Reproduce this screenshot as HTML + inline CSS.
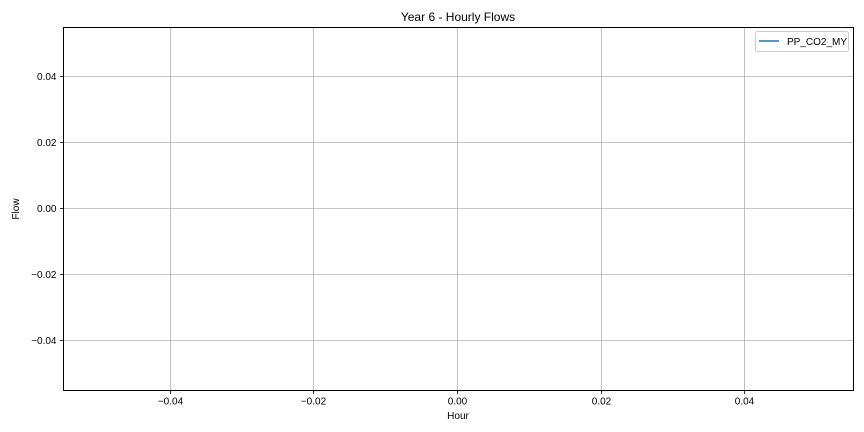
<!DOCTYPE html>
<html><head><meta charset="utf-8"><style>
html,body{margin:0;padding:0;background:#fff;}
svg{display:block;font-family:"Liberation Sans","DejaVu Sans",sans-serif;}
</style></head><body>
<svg id="chart" width="864" height="432" xmlns="http://www.w3.org/2000/svg">
<rect width="864" height="432" fill="#fff"/>
<text x="458" y="21" font-size="12" text-anchor="middle" fill="#000">Year 6 - Hourly Flows</text>
<g id="grid"></g>
<g id="series"></g>
<rect x="63.5" y="27.5" width="790" height="363" fill="none" stroke="#000" stroke-width="1"/>
<g id="ticks"></g>
<text x="458" y="419" font-size="10" text-anchor="middle">Hour</text>
<text x="19" y="209" font-size="10" text-anchor="middle" transform="rotate(-90 19 209)">Flow</text>
<g>
<rect x="755.5" y="31.5" width="93" height="20" rx="2" fill="#fff" stroke="#ccc"/>
<line x1="759" y1="41" x2="779" y2="41" stroke="#1f77b4" stroke-width="1.5"/>
<text x="787" y="45" font-size="10">PP_CO2_MY</text>
</g>
</svg>
<script>
const xTicks = [-0.04, -0.02, 0, 0.02, 0.04];
const xTickLabels = ["\u22120.04", "\u22120.02", "0.00", "0.02", "0.04"];
const yTicks = [0.04, 0.02, 0, -0.02, -0.04];
const yTickLabels = ["0.04", "0.02", "0.00", "\u22120.02", "\u22120.04"];
const hours = [];
const flows = [];

const L = 63.5, R = 853.5, T = 27.5, B = 390.5;
const xMin = -0.055, xMax = 0.055, yMin = -0.055, yMax = 0.055;
const xs = v => L + (v - xMin) / (xMax - xMin) * (R - L);
const ys = v => B - (v - yMin) / (yMax - yMin) * (B - T);
const NS = "http://www.w3.org/2000/svg";
const grid = document.getElementById("grid");
const ticks = document.getElementById("ticks");
function mk(tag, attrs, parent) {
  const e = document.createElementNS(NS, tag);
  for (const k in attrs) e.setAttribute(k, attrs[k]);
  parent.appendChild(e);
  return e;
}
xTicks.forEach((v, i) => {
  const x = Math.floor(xs(v)) - 0.5;
  const g = mk("line", {x1: x, x2: x, y1: T, y2: B, stroke: "#b0b0b0", "stroke-width": 0.8}, grid);
  
  
  const t = mk("line", {x1: x, x2: x, y1: B, y2: B + 3.5, stroke: "#000", "stroke-width": 0.8}, ticks);
  
  
  const l = mk("text", {x: x, y: B + 14, "font-size": 10, "text-anchor": "middle"}, ticks);
  l.textContent = xTickLabels[i];
  
  
});
yTicks.forEach((v, i) => {
  const y = Math.floor(ys(v)) - 0.5;
  const g = mk("line", {x1: L, x2: R, y1: y, y2: y, stroke: "#b0b0b0", "stroke-width": 0.8}, grid);
  
  
  const t = mk("line", {x1: L - 3.5, x2: L, y1: y, y2: y, stroke: "#000", "stroke-width": 0.8}, ticks);
  
  
  const l = mk("text", {x: L - 7, y: y + 3.5, "font-size": 10, "text-anchor": "end"}, ticks);
  l.textContent = yTickLabels[i];
  
  
});
if (hours.length) {
  const p = mk("polyline", {points: hours.map((h, i) => xs(h) + "," + ys(flows[i])).join(" "), fill: "none", stroke: "#1f77b4", "stroke-width": 1.5}, document.getElementById("series"));
  
  
}
</script>
</body></html>
